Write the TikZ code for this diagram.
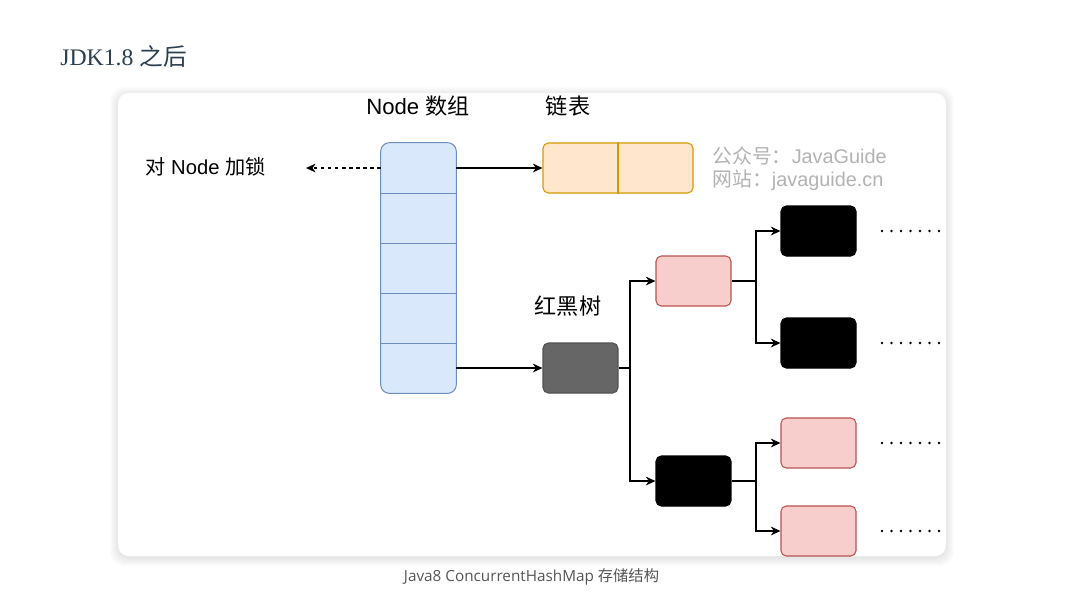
\documentclass[tikz,border=0pt]{standalone}
\usepackage{fontspec}
\setmainfont{Liberation Serif}
\setsansfont{Liberation Sans}
\newfontfamily\cjk{Noto Sans CJK SC}
\newfontfamily\capfont{Open Sans}
\usepackage{xcolor}
\usetikzlibrary{shapes,arrows.meta,positioning,calc}

\definecolor{titlecol}{HTML}{2C3E50}
\definecolor{arrfill}{HTML}{DAE8FC}
\definecolor{arrline}{HTML}{6C8EBF}
\definecolor{llfill}{HTML}{FFE6CC}
\definecolor{llline}{HTML}{D79B00}
\definecolor{redfill}{HTML}{F8CECC}
\definecolor{redline}{HTML}{B85450}
\definecolor{rootfill}{HTML}{666666}
\definecolor{markcol}{HTML}{B3B3B3}
\definecolor{capcol}{HTML}{555555}

\begin{document}
\begin{tikzpicture}[x=0.02cm,y=-0.02cm,
    cell/.style={minimum width=1.5cm,minimum height=1cm,inner sep=0pt},
    box/.style={rounded corners=3pt,minimum width=1.5cm,minimum height=1cm,inner sep=0pt,line width=0.6pt},
    redbox/.style={box,draw=redline,fill=redfill},
    blackbox/.style={box,draw=black,fill=black},
    label/.style={font=\sffamily\fontsize{12.6}{15}\selectfont},
    link/.style={-{Stealth[length=5.5pt,width=5pt]},line width=0.6pt},
    more/.style={line width=1.6pt,line cap=round,dash pattern=on 0pt off 5.4pt}]
    \useasboundingbox (0,0) rectangle (1069,600);

    % Title
    \node[anchor=base west,inner sep=0pt,text=titlecol,font=\fontsize{13.5}{16}\selectfont] (title) at (60,65) {JDK1.8 {\cjk 之后}};

    % Card with soft shadow
    \foreach \s in {1,...,8}
        \fill[black,opacity=0.012,rounded corners=8pt] ({118-\s},{95-\s}) rectangle ({946+\s},{558+\s});
    \fill[white,rounded corners=6pt] (118,93) rectangle (946,556);

    % Node array
    \node[label] (arrtitle) at (418,106) {Node {\cjk 数组}};
    \fill[arrfill,rounded corners=5pt] (381,143) rectangle (456,393);
    \foreach \i in {1,...,5}
        \node[cell] (c\i) at (418.5,{118+50*\i}) {};
    \foreach \i in {1,...,4}
        \draw[arrline,line width=0.6pt] (c\i.south west) -- (c\i.south east);
    \draw[arrline,line width=0.6pt,rounded corners=5pt] (c1.north west) rectangle (c5.south east);

    % Lock
    \node[label,font=\sffamily\fontsize{11.5}{14}\selectfont] (lock) at (205.5,167) {{\cjk 对} Node {\cjk 加锁}};
    \coordinate (lockend) at (306,168);
    \draw[link,dash pattern=on 2.2pt off 1.8pt] (c1.west) -- (lockend);

    % Linked list
    \node[label] (lltitle) at (568,106) {\cjk 链表};
    \node[box,draw=llline,fill=llfill,minimum width=3cm] (ll) at (618,168) {};
    \draw[llline,line width=0.6pt] (ll.north) -- (ll.south);
    \draw[link] (c1.east) -- (ll.west);

    % Watermark
    \node[anchor=west,inner sep=0pt,text=markcol,font=\sffamily\fontsize{11.3}{14}\selectfont] (mark1) at (712,156) {{\cjk 公众号：}JavaGuide};
    \node[anchor=west,inner sep=0pt,text=markcol,font=\sffamily\fontsize{11.3}{14}\selectfont] (mark2) at (712,180) {{\cjk 网站：}javaguide.cn};

    % Red-black tree
    \node[label] (rbtitle) at (568,306) {\cjk 红黑树};
    \node[box,draw=rootfill!80!black,fill=rootfill] (root) at (580.5,368) {};
    \draw[link] (c5.east) -- (root.west);

    \node[redbox] (r1) at (693.5,281) {};
    \node[blackbox] (b1) at (693.5,481) {};
    \coordinate (j0) at (630,368);
    \draw[link] (root.east) -- (j0) |- (r1.west);
    \draw[link] (j0) |- (b1.west);

    \node[blackbox] (b2) at (818.5,231) {};
    \node[blackbox] (b3) at (818.5,343) {};
    \coordinate (j1) at (756,281);
    \draw[link] (r1.east) -- (j1) |- (b2.west);
    \draw[link] (j1) |- (b3.west);

    \node[redbox] (r2) at (818.5,443) {};
    \node[redbox] (r3) at (818.5,531) {};
    \coordinate (j2) at (756,481);
    \draw[link] (b1.east) -- (j2) |- (r2.west);
    \draw[link] (j2) |- (r3.west);

    % More children
    \foreach \y in {231,343,443,531}
        \draw[more] (882,\y) -- (946,\y);

    % Caption
    \node[text=capcol,font=\capfont\fontsize{8.7}{11}\selectfont] (caption) at (531.5,577) {Java8 ConcurrentHashMap {\cjk 存储结构}};
\end{tikzpicture}
\end{document}
